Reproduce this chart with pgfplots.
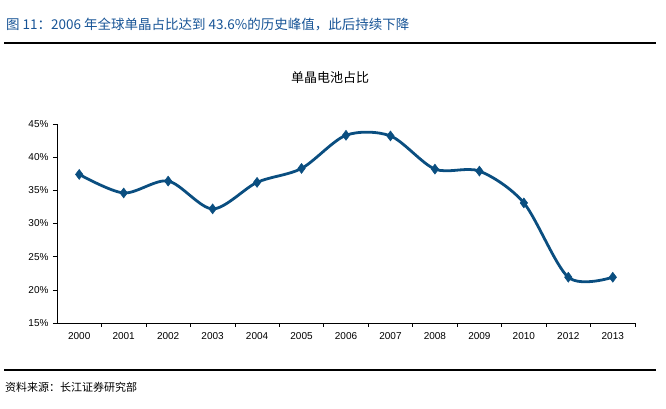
\documentclass[border=0pt]{standalone}
\usepackage{fontspec}
\setmainfont{Liberation Sans}
\newfontfamily\cjk{Noto Sans CJK SC}
\usepackage{pgfplots}
\pgfplotsset{compat=1.18}
\definecolor{hdblue}{RGB}{23,84,150}
\definecolor{lineblue}{RGB}{10,78,128}
\begin{document}
\begin{tikzpicture}[x=1pt,y=1pt]
\path (0,0) rectangle (666,409);
% header
\node[anchor=west,text=hdblue,font=\cjk\fontsize{13.5}{14}\selectfont,inner sep=0] at (6,385) {图 11：2006 年全球单晶占比达到 43.6\%的历史峰值，此后持续下降};
\draw[line width=1.3pt] (4,366) -- (656,366);
% chart title
\node[font=\cjk\fontsize{13}{14}\selectfont,inner sep=0] at (330,331) {单晶电池占比};
\begin{axis}[
    at={(57pt,86pt)}, anchor=south west,
    scale only axis, width=578pt, height=199pt,
    xmin=-0.5, xmax=12.5, ymin=15, ymax=45,
    axis lines*=left,
    axis line style={line width=0.8pt},
    xtick={0,...,12},
    xticklabels={2000,2001,2002,2003,2004,2005,2006,2007,2008,2009,2010,2012,2013},
    minor xtick={0.5,1.5,...,12.5},
    major x tick style={draw=none},
    minor tick length=4pt,
    ytick={15,20,...,45},
    yticklabel={\pgfmathprintnumber{\tick}\%},
    tick align=outside,
    major tick length=4pt,
    tick style={black, line width=0.6pt},
    ticklabel style={font=\fontsize{10}{11}\selectfont},
    /pgf/number format/assume math mode=true,
    xticklabel style={yshift=-2pt},
    yticklabel style={xshift=-1pt},
    clip=false,
]
\addplot[color=lineblue, line width=2.8pt, smooth, tension=0.5,
    mark=diamond*, mark size=5pt, mark options={line width=0.5pt, fill=lineblue}]
coordinates {
(0,37.4) (1,34.6) (2,36.4) (3,32.2) (4,36.2) (5,38.3) (6,43.3)
(7,43.2) (8,38.2) (9,37.9) (10,33.1) (11,21.9) (12,21.9)
};
\end{axis}
% footer
\draw[line width=1.1pt] (4,39) -- (656,39);
\node[anchor=west,font=\cjk\fontsize{11}{12}\selectfont,inner sep=0] at (5,22) {资料来源：长江证券研究部};
\end{tikzpicture}
\end{document}
